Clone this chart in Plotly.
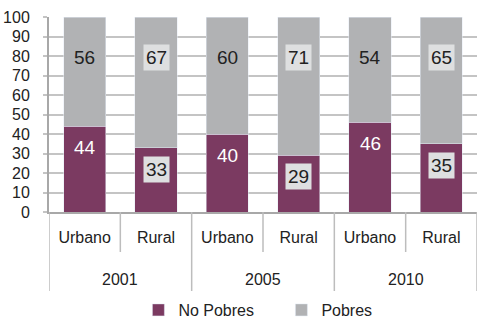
import plotly.graph_objects as go

# Datos
anios = ["2001", "2001", "2005", "2005", "2010", "2010"]
zonas = ["Urbano", "Rural", "Urbano", "Rural", "Urbano", "Rural"]
no_pobres = [44, 33, 40, 29, 46, 35]
pobres = [56, 67, 60, 71, 54, 65]
y_ticks = [0, 10, 20, 30, 40, 50, 60, 70, 80, 90, 100]

COLOR_NP = '#7B3A61'
COLOR_P = '#B1B2B4'
LINEA = '#BDBDBD'
FONT = 'Liberation Sans, Arial, sans-serif'

x_cat = [z + ' ' + a for z, a in zip(zonas, anios)]

fig = go.Figure()
fig.add_trace(go.Bar(name='No Pobres', x=x_cat, y=no_pobres, marker_color=COLOR_NP))
fig.add_trace(go.Bar(name='Pobres', x=x_cat, y=pobres, marker_color=COLOR_P))

# Etiquetas de datos (Rural con recuadro claro)
for i, (z, np_, p) in enumerate(zip(zonas, no_pobres, pobres)):
    rural = z == 'Rural'
    box = '#DEDFE0' if rural else 'rgba(0,0,0,0)'
    fig.add_annotation(x=i, y=np_ - 11, text=str(np_), showarrow=False,
                       font=dict(size=19, color='#222222' if rural else 'white', family=FONT),
                       bgcolor=box, borderpad=2)
    fig.add_annotation(x=i, y=79, text=str(p), showarrow=False,
                       font=dict(size=19, color='#222222', family=FONT),
                       bgcolor=box, borderpad=2)

# Segundo nivel del eje: años y separadores
grupos = sorted(set(anios))
for g in grupos:
    idx = [i for i, a in enumerate(anios) if a == g]
    centro = (idx[0] + idx[-1]) / 2
    fig.add_annotation(x=centro, y=-0.344, yref='paper', text=g, showarrow=False,
                       font=dict(size=16, color='#222222', family=FONT), yanchor='middle')
    # separador corto entre Urbano y Rural
    fig.add_shape(type='line', xref='x', yref='paper', x0=centro, x1=centro, y0=0, y1=-0.205,
                  line=dict(color=LINEA, width=1.5))
    # separador largo entre años
    fig.add_shape(type='line', xref='x', yref='paper', x0=idx[0] - 0.5, x1=idx[0] - 0.5,
                  y0=0, y1=-0.405, line=dict(color=LINEA, width=1.5))
fig.add_shape(type='line', xref='x', yref='paper', x0=len(x_cat) - 0.5, x1=len(x_cat) - 0.5,
              y0=0, y1=-0.405, line=dict(color=LINEA, width=1.5))

fig.update_layout(
    barmode='stack',
    bargap=0.41,
    width=477, height=327,
    margin=dict(l=49, r=0, t=17, b=115),
    plot_bgcolor='white', paper_bgcolor='white',
    font=dict(family=FONT, size=16, color='#222222'),
    showlegend=True,
    legend=dict(orientation='h', x=0.543, xanchor='center', yref='container', y=0, yanchor='bottom',
                font=dict(size=16), traceorder='normal', entrywidth=98, entrywidthmode='pixels'),
    xaxis=dict(type='category', range=[-0.5, len(x_cat) - 0.5], tickvals=x_cat, ticktext=zonas,
               showline=True, linecolor='#A8A8A8', linewidth=2, showgrid=False,
               tickfont=dict(size=16), ticklabelstandoff=10, automargin=False),
    yaxis=dict(range=[0, 100], tickvals=y_ticks, showgrid=True, gridcolor='#C4C4C4', gridwidth=2,
               showline=True, linecolor='#A8A8A8', linewidth=2, zeroline=False,
               ticks='outside', ticklen=4, tickcolor='#C4C4C4', tickwidth=2, tickfont=dict(size=16),
               ticklabelstandoff=10, automargin=False),
)

# sin el margen de 8px del navegador, la figura ocupa toda la ventana
fig.write_html("out.html", config={'displayModeBar': False},
               post_script="document.body.style.margin='0';")
